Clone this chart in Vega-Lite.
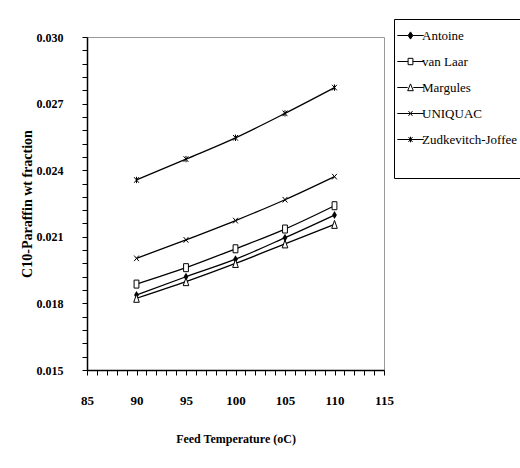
{
  "$schema": "https://vega.github.io/schema/vega-lite/v6.json",
  "autosize": {"type": "none"},
  "padding": {"left": 87, "top": 37, "right": 136, "bottom": 98},
  "width": 297,
  "height": 333,
  "background": "white",
  "config": {
    "view": {"stroke": "#999999", "strokeWidth": 1},
    "font": "Times New Roman"
  },
  "data": {
    "values": [
      {"series": "Antoine", "temp": 90, "frac": 0.01838},
      {"series": "Antoine", "temp": 95, "frac": 0.0192},
      {"series": "Antoine", "temp": 100, "frac": 0.01999},
      {"series": "Antoine", "temp": 105, "frac": 0.02096},
      {"series": "Antoine", "temp": 110, "frac": 0.02198},
      {"series": "van Laar", "temp": 90, "frac": 0.01887},
      {"series": "van Laar", "temp": 95, "frac": 0.01961},
      {"series": "van Laar", "temp": 100, "frac": 0.02046},
      {"series": "van Laar", "temp": 105, "frac": 0.02135},
      {"series": "van Laar", "temp": 110, "frac": 0.0224},
      {"series": "Margules", "temp": 90, "frac": 0.01823},
      {"series": "Margules", "temp": 95, "frac": 0.01898},
      {"series": "Margules", "temp": 100, "frac": 0.0198},
      {"series": "Margules", "temp": 105, "frac": 0.02068},
      {"series": "Margules", "temp": 110, "frac": 0.02156},
      {"series": "UNIQUAC", "temp": 90, "frac": 0.02003},
      {"series": "UNIQUAC", "temp": 95, "frac": 0.02086},
      {"series": "UNIQUAC", "temp": 100, "frac": 0.02173},
      {"series": "UNIQUAC", "temp": 105, "frac": 0.02267},
      {"series": "UNIQUAC", "temp": 110, "frac": 0.02371},
      {"series": "Zudkevitch-Joffee", "temp": 90, "frac": 0.02356},
      {"series": "Zudkevitch-Joffee", "temp": 95, "frac": 0.0245},
      {"series": "Zudkevitch-Joffee", "temp": 100, "frac": 0.02546},
      {"series": "Zudkevitch-Joffee", "temp": 105, "frac": 0.02656},
      {"series": "Zudkevitch-Joffee", "temp": 110, "frac": 0.02772}
    ]
  },
  "encoding": {
    "x": {
      "field": "temp", "type": "quantitative",
      "scale": {"domain": [85, 115], "nice": false, "zero": false},
      "axis": {
        "title": "Feed Temperature (oC)",
        "values": [85,86,87,88,89,90,91,92,93,94,95,96,97,98,99,100,101,102,103,104,105,106,107,108,109,110,111,112,113,114,115],
        "labelExpr": "datum.value % 5 === 0 ? datum.label : ''",
        "grid": false,
        "domainColor": "black", "domainWidth": 1.5,
        "ticks": true,
        "tickColor": "black", "tickSize": 5, "tickWidth": 1,
        "labelPadding": 19,
        "labelFont": "Times New Roman", "labelFontWeight": "bold", "labelFontSize": 13, "labelColor": "black",
        "labelFlush": false, "labelOverlap": false,
        "titleFont": "Times New Roman", "titleFontWeight": "bold", "titleFontSize": 12, "titleColor": "black",
        "titleY": 68, "titleBaseline": "middle",
        "encode": {"ticks": {"y2": {"condition": {"test": "datum.value % 5 === 0", "value": -6}, "value": -3}}}
      }
    },
    "y": {
      "field": "frac", "type": "quantitative",
      "scale": {"domain": [0.015, 0.03], "nice": false, "zero": false},
      "axis": {
        "title": "C10-Paraffin wt fraction",
        "values": [0.015,0.0156,0.0162,0.0168,0.0174,0.018,0.0186,0.0192,0.0198,0.0204,0.021,0.0216,0.0222,0.0228,0.0234,0.024,0.0246,0.0252,0.0258,0.0264,0.027,0.0276,0.0282,0.0288,0.0294,0.03],
        "labelExpr": "abs(datum.value*1000/3 - round(datum.value*1000/3)) < 0.001 ? format(datum.value, '.3f') : ''",
        "grid": false,
        "domainColor": "black", "domainWidth": 1.5,
        "ticks": true,
        "tickColor": "black", "tickSize": 5, "tickWidth": 1,
        "labelPadding": 19,
        "labelFont": "Times New Roman", "labelFontWeight": "bold", "labelFontSize": 12, "labelColor": "black",
        "labelFlush": false, "labelOverlap": false,
        "titleFont": "Times New Roman", "titleFontWeight": "bold", "titleFontSize": 14, "titleColor": "black",
        "titleX": -60, "titleBaseline": "middle",
        "encode": {"ticks": {"x2": {"condition": {"test": "abs(datum.value*1000/3 - round(datum.value*1000/3)) < 0.001", "value": 6}, "value": 3}}}
      }
    }
  },
  "layer": [
    {
      "mark": {"type": "line", "strokeWidth": 1.3, "interpolate": "monotone"},
      "encoding": {
        "stroke": {
          "field": "series", "type": "nominal",
          "scale": {
            "domain": ["Antoine", "van Laar", "Margules", "UNIQUAC", "Zudkevitch-Joffee"],
            "range": ["black", "black", "black", "black", "black"]
          },
          "legend": {
            "title": " ",
            "titleOrient": "bottom",
            "titleFontSize": 12,
            "titlePadding": 10,
            "orient": "none",
            "legendX": 307,
            "legendY": -18,
            "direction": "vertical",
            "padding": 10,
            "strokeColor": "black",
            "fillColor": "white",
            "symbolSize": 64,
            "labelOffset": 5,
            "rowPadding": 12,
            "labelFont": "Times New Roman",
            "labelFontSize": 13,
            "labelColor": "black",
            "labelLimit": 200,
            "encode": {
              "symbols": {
                "update": {
                  "shape": {"signal": "datum.value === 'Antoine' ? 'M-3.3,0L-0.6,0M0.6,0L3.3,0M0,-0.9L0.6,0L0,0.9L-0.6,0Z' : datum.value === 'van Laar' ? 'M-3.3,0L-0.6,0M0.6,0L3.3,0M-0.6,-0.8L0.6,-0.8L0.6,0.8L-0.6,0.8Z' : datum.value === 'Margules' ? 'M-3.3,0L-0.7,0M0.7,0L3.3,0M0,-0.9L0.7,0.8L-0.7,0.8Z' : datum.value === 'UNIQUAC' ? 'M-3.3,0L3.3,0M-0.5,-0.6L0.5,0.6M-0.5,0.6L0.5,-0.6' : 'M-3.3,0L3.3,0M-0.5,-0.6L0.5,0.6M-0.5,0.6L0.5,-0.6M0,-0.7L0,0.7'"},
                  "fill": {"signal": "datum.value === 'Antoine' ? 'black' : 'white'"},
                  "fillOpacity": {"value": 1},
                  "strokeWidth": {"value": 1},
                  "opacity": {"value": 1}
                }
              }
            }
          }
        }
      }
    },
    {
      "transform": [{"filter": "datum.series === 'Antoine'"}],
      "mark": {"type": "point", "shape": "M0,-1L0.6,0L0,1L-0.6,0Z", "filled": true, "color": "black", "strokeWidth": 1, "size": 64, "opacity": 1}
    },
    {
      "transform": [{"filter": "datum.series === 'van Laar'"}],
      "mark": {"type": "point", "shape": "M-0.6,-1H0.6V1H-0.6Z", "filled": false, "fill": "white", "stroke": "black", "strokeWidth": 1, "size": 64, "opacity": 1}
    },
    {
      "transform": [{"filter": "datum.series === 'Margules'"}],
      "mark": {"type": "point", "shape": "M0,-1L0.7,1H-0.7Z", "filled": false, "fill": "white", "stroke": "black", "strokeWidth": 1, "size": 64, "opacity": 1}
    },
    {
      "transform": [{"filter": "datum.series === 'UNIQUAC'"}],
      "mark": {"type": "point", "shape": "M-0.6,-0.7L0.6,0.7M-0.6,0.7L0.6,-0.7", "filled": false, "stroke": "black", "strokeWidth": 1, "size": 64, "opacity": 1}
    },
    {
      "transform": [{"filter": "datum.series === 'Zudkevitch-Joffee'"}],
      "mark": {"type": "point", "shape": "M-0.6,-0.7L0.6,0.7M-0.6,0.7L0.6,-0.7M0,-0.8V0.8", "filled": false, "stroke": "black", "strokeWidth": 1, "size": 64, "opacity": 1}
    }
  ]
}
